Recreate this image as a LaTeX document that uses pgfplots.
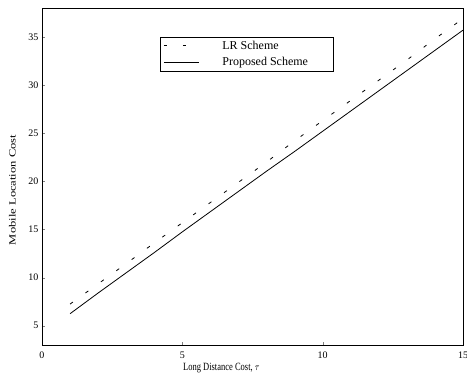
\documentclass[border=0pt]{standalone}
\usepackage{fontspec}
\setmainfont{Liberation Serif}
\usepackage{pgfplots}
\pgfplotsset{compat=1.18}
\begin{document}
\begin{tikzpicture}
\begin{axis}[
  name=ax,
  scale only axis, width=421pt, height=337pt,
  xmin=0, xmax=15, ymin=3, ymax=38,
  xtick={0,5,10,15}, ytick={5,10,15,20,25,30,35},
  tick align=inside, xtick pos=bottom, ytick pos=left,
  major tick length=3pt,
  /pgf/number format/assume math mode=true,
  tick label style={font=\fontsize{10}{11}\selectfont},
  xticklabel style={yshift=-3pt},
  xlabel={\scalebox{1}[1.3]{Long Distance Cost, $\tau$}},
  ylabel={\scalebox{1.32}[1]{Mobile Location Cost}},
  xlabel style={font=\fontsize{8.5}{10}\selectfont, at={(ticklabel cs:0.426)}, yshift=2pt},
  ylabel style={font=\fontsize{9.5}{10}\selectfont, at={(ticklabel cs:0.46)}, yshift=6pt},
  legend style={at={(axis cs:4.21,35.0)}, anchor=north west, draw=black, line width=0.8pt,
    font=\fontsize{12}{13}\selectfont, cells={anchor=west}, inner xsep=3pt, inner ysep=1.5pt,
    row sep=3pt},
  legend image code/.code={\draw[#1] (0pt,0pt) -- (35pt,0pt);},
]
\addplot[black, line width=0.8pt, dash pattern=on 3.5pt off 15.5pt] coordinates {
(1,7.25) (2,9.35) (3,11.45) (4,13.6) (5,15.7) (6,17.8) (7,19.9) (8,22.0) (9,24.2) (10,26.3) (11,28.4) (12,30.5) (13,32.6) (14,34.8) (15,36.9)};
\addlegendentry{\hspace*{21pt}LR Scheme}
\addplot[black, line width=0.8pt] coordinates {
(1,6.25) (2,8.4) (3,10.5) (4,12.6) (5,14.75) (6,16.85) (7,18.95) (8,21.05) (9,23.1) (10,25.2) (11,27.3) (12,29.4) (13,31.5) (14,33.6) (15,35.7)};
\addlegendentry{\hspace*{21pt}Proposed Scheme\hspace*{20pt}}
\end{axis}
\pgfresetboundingbox
\path ([shift={(-42pt,-37pt)}]ax.south west) rectangle ([shift={(4pt,8pt)}]ax.north east);
\end{tikzpicture}
\end{document}
